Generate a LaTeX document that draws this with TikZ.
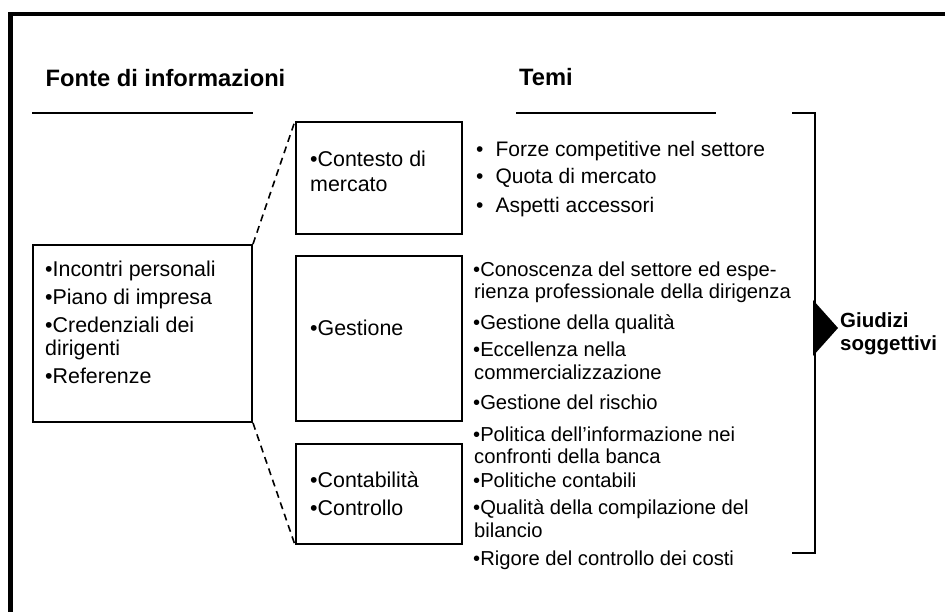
\documentclass[tikz,border=0pt]{standalone}
\usepackage{fontspec}
\setmainfont{Liberation Sans}
\tikzset{
  box/.style={draw=black, line width=2pt, inner sep=0pt, fill=none},
  txt/.style={anchor=base west, inner sep=0pt, font=\fontsize{21.4}{23}\selectfont},
  thm/.style={anchor=base west, inner sep=0pt, font=\fontsize{20.2}{23}\selectfont},
  thmA/.style={anchor=base west, inner sep=0pt, font=\fontsize{21}{23}\selectfont},
  head/.style={anchor=base west, inner sep=0pt, font=\fontsize{23.7}{26}\selectfont\bfseries},
  result/.style={anchor=base west, inner sep=0pt, font=\fontsize{20.5}{23}\selectfont\bfseries},
  rule/.style={line width=2pt},
  dashline/.style={line width=1.6pt, dash pattern=on 7pt off 5pt},
}
\begin{document}
\begin{tikzpicture}[x=1pt,y=-1pt]
\useasboundingbox (0,0) rectangle (945,612);
% frame
\coordinate (fbl) at (10.5,620);
\coordinate (ftl) at (10.5,14);
\coordinate (ftr) at (950,14);
\draw[line width=4.5pt] (fbl) -- (ftl) -- (ftr);

% headings
\node[head] (hfonte) at (45.5,87) {Fonte di informazioni};
\node[head] (htemi) at (519,86) {Temi};
\coordinate (fl1) at (32,113); \coordinate (fl2) at (253,113);
\draw[rule] (fl1) -- (fl2);
\coordinate (tl1) at (516,113); \coordinate (tl2) at (716,113);
\draw[rule] (tl1) -- (tl2);

% boxes
\node[box, minimum width=219pt, minimum height=177pt] (src) at (142.5,333.5) {};
\node[box, minimum width=166pt, minimum height=112pt] (mkt) at (379,178) {};
\node[box, minimum width=166pt, minimum height=165pt] (mgt) at (379,338.5) {};
\node[box, minimum width=166pt, minimum height=100pt] (ctl) at (379,494) {};

% dashed connectors
\draw[dashline] (src.north east) -- (mkt.north west);
\draw[dashline] (src.south east) -- (ctl.south west);

% source box text
\node[txt] (s1) at (45,277) {•Incontri personali};
\node[txt] (s2) at (45,305) {•Piano di impresa};
\node[txt] (s3) at (45,332) {•Credenziali dei};
\node[txt] (s3b) at (45,355) {dirigenti};
\node[txt] (s4) at (45,383) {•Referenze};

% middle boxes text
\node[txt] (m1) at (310,167) {•Contesto di};
\node[txt] (m1b) at (310,192) {mercato};
\node[txt] (g1) at (310,335) {•Gestione};
\node[txt] (c1) at (310,487) {•Contabilità};
\node[txt] (c2) at (310,515) {•Controllo};

% themes
\node[thmA] (r1) at (476,157) {•\hspace{12pt}Forze competitive nel settore};
\node[thmA] (r2) at (476,184) {•\hspace{12pt}Quota di mercato};
\node[thmA] (r3) at (476,213) {•\hspace{12pt}Aspetti accessori};
\node[thm] (r4) at (473,276.5) {•Conoscenza del settore ed espe-};
\node[thm] (r4b) at (474,299) {rienza professionale della dirigenza};
\node[thm] (r5) at (473,330) {•Gestione della qualità};
\node[thm] (r6) at (473,356.5) {•Eccellenza nella};
\node[thm] (r6b) at (474,379) {commercializzazione};
\node[thm] (r7) at (473,409) {•Gestione del rischio};
\node[thm] (r8) at (473,441) {•Politica dell’informazione nei};
\node[thm] (r8b) at (474,463) {confronti della banca};
\node[thm] (r9) at (473,487) {•Politiche contabili};
\node[thm] (r10) at (473,514) {•Qualità della compilazione del};
\node[thm] (r10b) at (474,537) {bilancio};
\node[thm] (r11) at (473,565) {•Rigore del controllo dei costi};

% bracket
\coordinate (b1) at (792,113);
\coordinate (b2) at (815,113);
\coordinate (b3) at (815,553);
\coordinate (b4) at (792,553);
\draw[rule] (b1) -- (b2) -- (b3) -- (b4);
\coordinate (ta) at (813,300);
\coordinate (tb) at (838,328);
\coordinate (tc) at (813,356);
\fill[black] (ta) -- (tb) -- (tc) -- cycle;

% result
\node[result] (res1) at (840,327) {Giudizi};
\node[result] (res2) at (840,350) {soggettivi};
\end{tikzpicture}
\end{document}
